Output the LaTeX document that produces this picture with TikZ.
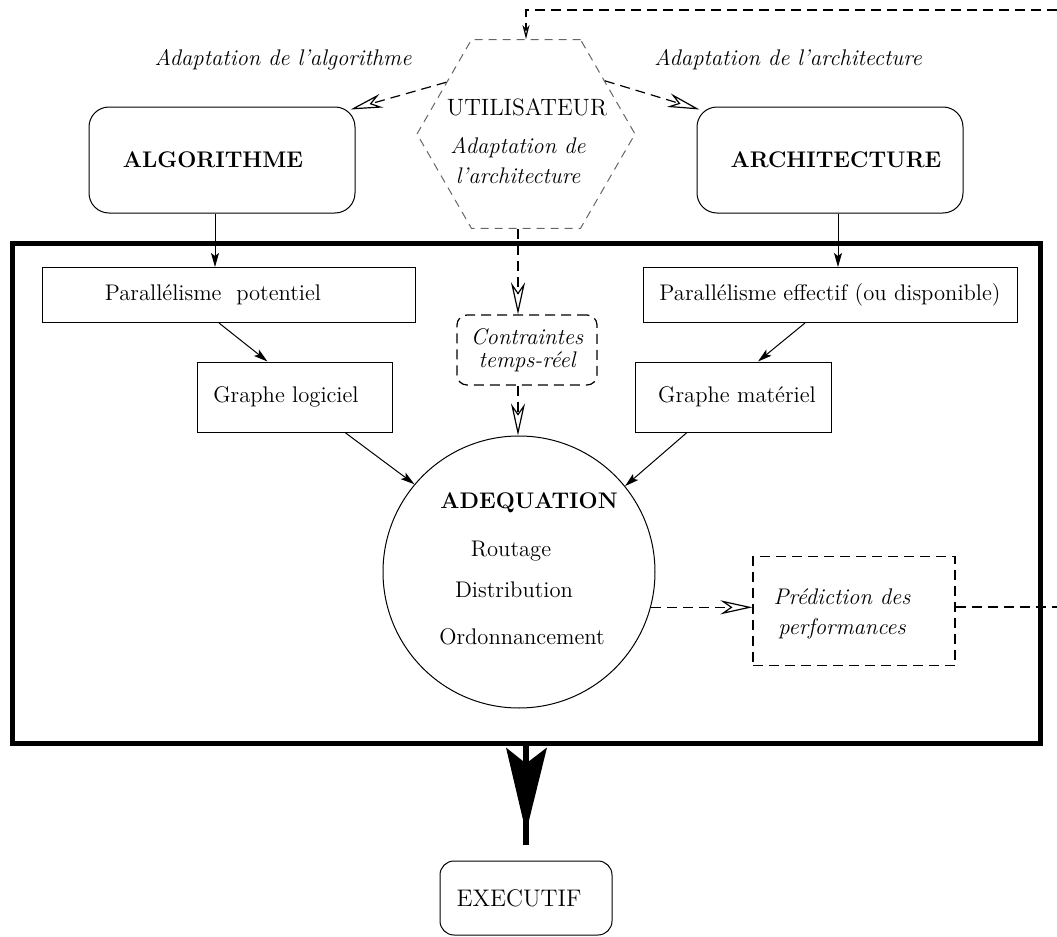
\documentclass[tikz,border=0pt]{standalone}
\usetikzlibrary{arrows.meta,shapes.geometric,calc}
\begin{document}
\fontsize{11.3}{13.6}\selectfont
\begin{tikzpicture}[x=0.5pt,y=-0.5pt,
  box/.style={draw,line width=0.5pt,inner sep=1pt},
  rbox/.style={box,rounded corners=10pt},
  dsh/.style={dash pattern=on 5pt off 3pt,line width=0.6pt},
  arr/.style={line width=0.5pt,-{Stealth[length=7pt,width=4pt,inset=1.5pt]}},
  oarr/.style={-{Stealth[open,length=16pt,width=7pt,inset=5pt]}},
  oarrS/.style={-{Stealth[open,length=7pt,width=3.5pt,inset=2pt]}},
  lbl/.style={font=\itshape}]
\useasboundingbox (0,0) rectangle (1057,937);

% outer frame
\node[draw,line width=2.5pt,minimum width=514pt,minimum height=250pt,inner sep=0] (frame) at (526,493) {};

% user hexagon
\node[regular polygon,regular polygon sides=6,minimum size=109pt,inner sep=0,
      draw=black!60,dash pattern=on 4pt off 3pt,line width=0.5pt] (user) at (526,134) {};
\node[font=\fontsize{11.8}{14}\selectfont] (userT) at (527,107) {UTILISATEUR};
\node[lbl,align=center] (userA) at (518,161) {Adaptation de\\[1.4pt]l'architecture};

% side labels
\node[lbl] (adAlg) at (283,60) {Adaptation de l'algorithme};
\node[lbl] (adArch) at (788,60) {Adaptation de l'architecture};

% top boxes
\node[rbox,minimum width=133pt,minimum height=53pt] (algo) at (222,160) {\bfseries ALGORITHME\hspace*{9pt}};
\node[rbox,minimum width=133pt,minimum height=53pt] (arch) at (830,160) {\hspace*{6pt}\bfseries ARCHITECTURE};

% inner boxes
\node[box,minimum width=186.5pt,minimum height=27.5pt] (pp) at (229,295) {Parallélisme\ \ potentiel\hspace*{16pt}};
\node[box,minimum width=187pt,minimum height=27.5pt] (pe) at (830,295) {Parallélisme effectif (ou disponible)};
\node[box,minimum width=97.5pt,minimum height=35pt] (gl) at (295,397) {Graphe logiciel\hspace*{9pt}};
\node[box,minimum width=98pt,minimum height=35pt] (gm) at (733,397) {\hspace*{4pt}Graphe matériel};
\node[box,dsh,rounded corners=5pt,minimum width=70pt,minimum height=35pt,align=center,font=\itshape] (cc) at (527,350) {Contraintes\\[-2pt]temps-réel};

% adequation circle
\node[circle,draw,line width=0.5pt,minimum size=136pt,inner sep=0] (adeq) at (519,572) {};
\node[font=\bfseries] (adT) at (529,503) {ADEQUATION};
\node (adR) at (511,551) {Routage};
\node (adD) at (514,590) {Distribution};
\node (adO) at (522,637) {Ordonnancement};

% prediction box
\node[box,dsh,minimum width=101pt,minimum height=54.5pt] (pred) at (854,611) {};
\node[lbl,align=center] (predT) at (842,614) {Prédiction des\\[1.4pt]performances};

% executive
\node[rbox,rounded corners=7pt,minimum width=86pt,minimum height=37pt,font=\fontsize{12}{14}\selectfont] (exec) at (526,898) {EXECUTIF\hspace*{7pt}};

% solid connectors
\draw[arr] ([xshift=-3.5pt]algo.south) -- ([xshift=-3.5pt]algo.south |- pp.north);
\draw[arr] ([xshift=4pt]arch.south) -- ([xshift=4pt]arch.south |- pe.north);
\draw[arr] ([xshift=-5pt]pp.south) -- ([xshift=-13.75pt]gl.north);
\draw[arr] ([xshift=-12.5pt]pe.south) -- ([xshift=12.5pt]gm.north);
\draw[arr] ([xshift=25pt]gl.south) -- (adeq.140);
\draw[arr] ([xshift=-23pt]gm.south) -- (adeq.39);

% dashed connectors
\draw[dsh,oarr] (user.147) -- ([shift={(-2.5pt,-1.5pt)}]algo.north east);
\draw[dsh,oarr] (user.34) -- ([shift={(1.5pt,-1.5pt)}]arch.north west);
\draw[dsh,oarr] ([xshift=-4.5pt]cc.north |- user.south) -- ([xshift=-4.5pt]cc.north);
\draw[dsh,oarr] ([xshift=-4.5pt]cc.south) -- ([xshift=-4.5pt]cc.south |- adeq.north);
\draw[dsh,oarr] (adeq.-15) -- (adeq.-15 -| pred.west);

% feedback loop leaving the page
\coordinate (loopR) at (1057,607);
\coordinate (loopT) at (1057,10);
\draw[dsh] (pred.east |- loopR) -- (loopR);
\draw[dsh,oarrS] (loopT) -- (loopT -| user.north) -- (user.north);

% heavy output arrow
\coordinate (bigEnd) at ([yshift=8pt]exec.north);
\draw[line width=3pt] (frame.south) -- (bigEnd);
\fill ([shift={(-10pt,-1pt)}]frame.south) -- ([yshift=-9pt]frame.south)
  -- ([shift={(10.5pt,-1pt)}]frame.south) -- ([yshift=-43.5pt]frame.south) -- cycle;
\end{tikzpicture}
\end{document}
